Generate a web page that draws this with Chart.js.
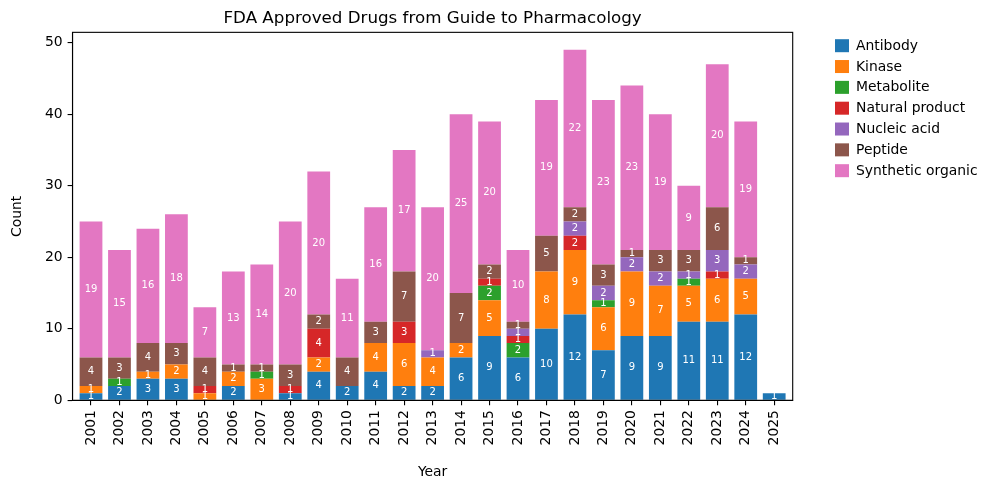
<!DOCTYPE html>
<html lang="en">
<head>
    <meta charset="UTF-8">
    <title>FDA Approved Drugs from Guide to Pharmacology</title>
    <script src="https://cdn.jsdelivr.net/npm/chart.js@4"></script>
    <style>
        html, body { margin: 0; padding: 0; background: #fff; }
        #wrap { width: 987px; height: 490px; }
    </style>
</head>
<body>
    <div id="wrap"><canvas id="paint"></canvas></div>
    <script>
        var years = [2001,2002,2003,2004,2005,2006,2007,2008,2009,2010,2011,2012,2013,2014,2015,2016,2017,2018,2019,2020,2021,2022,2023,2024,2025]
        var antibody         = [1,2,3,3,0,2,0,1,4,2,4,2,2,6,9,6,10,12,7,9,9,11,11,12,1]
        var kinase           = [1,0,1,2,1,2,3,0,2,0,4,6,4,2,5,0,8,9,6,9,7,5,6,5,0]
        var metabolite       = [0,1,0,0,0,0,1,0,0,0,0,0,0,0,2,2,0,0,1,0,0,1,0,0,0]
        var naturalProduct   = [0,0,0,0,1,0,0,1,4,0,0,3,0,0,1,1,0,2,0,0,0,0,1,0,0]
        var nucleicAcid      = [0,0,0,0,0,0,0,0,0,0,0,0,1,0,0,1,0,2,2,2,2,1,3,2,0]
        var peptide          = [4,3,4,3,4,1,1,3,2,4,3,7,0,7,2,1,5,2,3,1,3,3,6,1,0]
        var syntheticOrganic = [19,15,16,18,7,13,14,20,20,11,16,17,20,25,20,10,19,22,23,23,19,9,20,19,0]
        var yTicks = [0,10,20,30,40,50]

        var series = [
            ["Antibody", antibody, "#1f77b4"],
            ["Kinase", kinase, "#ff7f0e"],
            ["Metabolite", metabolite, "#2ca02c"],
            ["Natural product", naturalProduct, "#d62728"],
            ["Nucleic acid", nucleicAcid, "#9467bd"],
            ["Peptide", peptide, "#8c564b"],
            ["Synthetic organic", syntheticOrganic, "#e377c2"]
        ]

        var FONT = "'DejaVu Sans', sans-serif"
        Chart.defaults.font.family = FONT
        Chart.defaults.color = "#000"

        // white counts in the middle of every segment, frame, legend
        var extras = {
            id: "extras",
            afterDatasetsDraw: function (chart) {
                var ctx = chart.ctx
                var a = chart.chartArea
                ctx.save()
                ctx.strokeStyle = "#000"
                ctx.lineWidth = 1.1
                ctx.strokeRect(a.left, a.top, a.right - a.left, a.bottom - a.top)

                ctx.fillStyle = "#fff"
                ctx.font = "10px " + FONT
                ctx.textAlign = "center"
                ctx.textBaseline = "middle"
                chart.data.datasets.forEach(function (ds, i) {
                    var meta = chart.getDatasetMeta(i)
                    meta.data.forEach(function (bar, j) {
                        var v = ds.data[j]
                        if (!v) return
                        ctx.fillText(String(v), bar.x, (bar.y + bar.base) / 2)
                    })
                })

                ctx.font = "13.9px " + FONT
                ctx.textAlign = "left"
                chart.data.datasets.forEach(function (ds, i) {
                    var cy = 45.7 + i * 20.83
                    ctx.fillStyle = ds.backgroundColor
                    ctx.fillRect(835, cy - 6.5, 14, 13)
                    ctx.fillStyle = "#000"
                    ctx.fillText(ds.label, 856, cy + 0.5)
                })
                ctx.restore()
            }
        }

        var ctx = document.getElementById("paint").getContext("2d")
        var chart = new Chart(ctx, {
            type: "bar",
            data: {
                labels: years,
                datasets: series.map(function (s) {
                    return {
                        label: s[0],
                        data: s[1],
                        backgroundColor: s[2],
                        borderWidth: 0,
                        barPercentage: 0.8,
                        categoryPercentage: 1.0
                    }
                })
            },
            options: {
                responsive: true,
                maintainAspectRatio: false,
                animation: false,
                layout: { padding: { left: 0, right: 194.3, top: 0, bottom: 0 } },
                plugins: {
                    legend: { display: false },
                    tooltip: { enabled: false },
                    title: {
                        display: true,
                        text: "FDA Approved Drugs from Guide to Pharmacology",
                        fullSize: false,
                        font: { size: 16.7, weight: "normal" },
                        padding: { top: 9, bottom: 3.3 }
                    }
                },
                scales: {
                    x: {
                        type: "linear",
                        stacked: true,
                        offset: false,
                        min: 2000.35,
                        max: 2025.65,
                        afterBuildTicks: function (axis) {
                            axis.ticks = years.map(function (y) { return { value: y } })
                        },
                        afterFit: function (axis) { axis.height = 89.7 },
                        ticks: {
                            autoSkip: false,
                            minRotation: 90,
                            maxRotation: 90,
                            padding: 4.9,
                            font: { size: 13.9 },
                            callback: function (v) { return String(v) }
                        },
                        grid: { offset: false, drawOnChartArea: false, drawTicks: true, tickLength: 4.9, color: "#000", lineWidth: 1.1 },
                        border: { display: true, color: "#000", width: 1.1 },
                        title: { display: true, text: "Year", font: { size: 13.9 }, padding: { top: 0, bottom: 9.7 } }
                    },
                    y: {
                        stacked: true,
                        min: 0,
                        max: 51.45,
                        afterBuildTicks: function (axis) {
                            axis.ticks = yTicks.map(function (t) { return { value: t } })
                        },
                        afterFit: function (axis) { axis.width = 72.5 },
                        ticks: { padding: 4.9, font: { size: 13.9 } },
                        grid: { drawOnChartArea: false, drawTicks: true, tickLength: 4.9, color: "#000", lineWidth: 1.1 },
                        border: { display: true, color: "#000", width: 1.1 },
                        title: { display: true, text: "Count", font: { size: 13.9 }, padding: { top: 8.7, bottom: 0 } }
                    }
                }
            },
            plugins: [extras]
        })
    </script>
</body>
</html>
